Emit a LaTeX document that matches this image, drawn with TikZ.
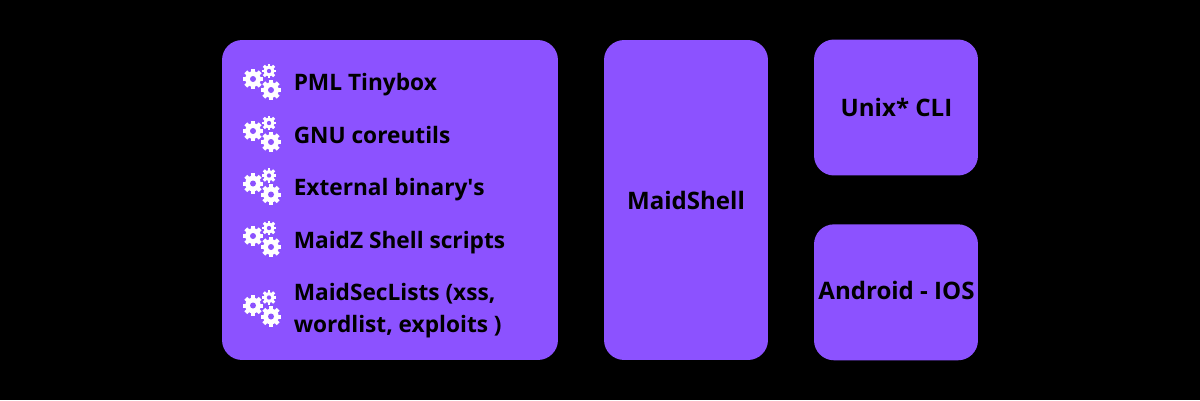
\documentclass[tikz,border=0pt]{standalone}
\usepackage{fontspec}
\setmainfont{Open Sans}
\usetikzlibrary{positioning}
\definecolor{violet}{RGB}{140,82,255}
\begin{document}
\begin{tikzpicture}[
      x=0.02cm,y=-0.02cm,
      every node/.style={text=black,inner sep=0pt},
      panel/.style={fill=violet,rounded corners=0.4cm},
      title/.style={anchor=base,font=\fontsize{13.7pt}{18pt}\selectfont\bfseries},
      item/.style={anchor=base west,font=\fontsize{12.9pt}{18pt}\selectfont\bfseries},
      gearwheel/.pic={
        \fill[white] (0,0) circle (7.8);
        \foreach \a in {0,45,...,315}
          \fill[white,rotate=\a] (6,-2) rectangle (10.2,2);
        \fill[violet] (0,0) circle (3);
      },
      gearset/.pic={
        \pic at (-17.5,-1) {gearwheel};
        \pic[scale=0.72] at (-1.5,-9) {gearwheel};
        \pic at (0.5,10) {gearwheel};
      }
    ]
      \fill[black] (0,0) rectangle (1200,400);

      \node[panel,minimum width=6.72cm,minimum height=6.4cm] (tools) at (390,200) {};
      \node[panel,minimum width=3.28cm,minimum height=6.4cm] (shell) at (686,200) {};
      \node[panel,minimum width=3.28cm,minimum height=2.72cm] (unix) at (896,107.5) {};
      \node[panel,minimum width=3.28cm,minimum height=2.72cm] (mobile) at (896,292.3) {};

      \node[title] (shelltext) at (686,209) {MaidShell};
      \node[title] (unixtext) at (896.5,116) {Unix* CLI};
      \node[title] (mobiletext) at (896.5,299.8) {Android - IOS};

      \node[item] (tinybox) at (293.4,90.7) {PML Tinybox};
      \node[item] (coreutils) at (293.4,143.4) {GNU coreutils};
      \node[item] (binary) at (293.4,195.2) {External binary\textquotesingle s};
      \node[item] (scripts) at (293.4,248.4) {MaidZ Shell scripts};
      \node[item] (lists) at (293.4,300.2) {MaidSecLists (xss,};
      \node[item] (lists2) at (293.4,332.2) {wordlist, exploits )};

      \foreach \y in {80,132,184.5,237,306.5}
        \pic at (270.5,\y) {gearset};
    \end{tikzpicture}
\end{document}
